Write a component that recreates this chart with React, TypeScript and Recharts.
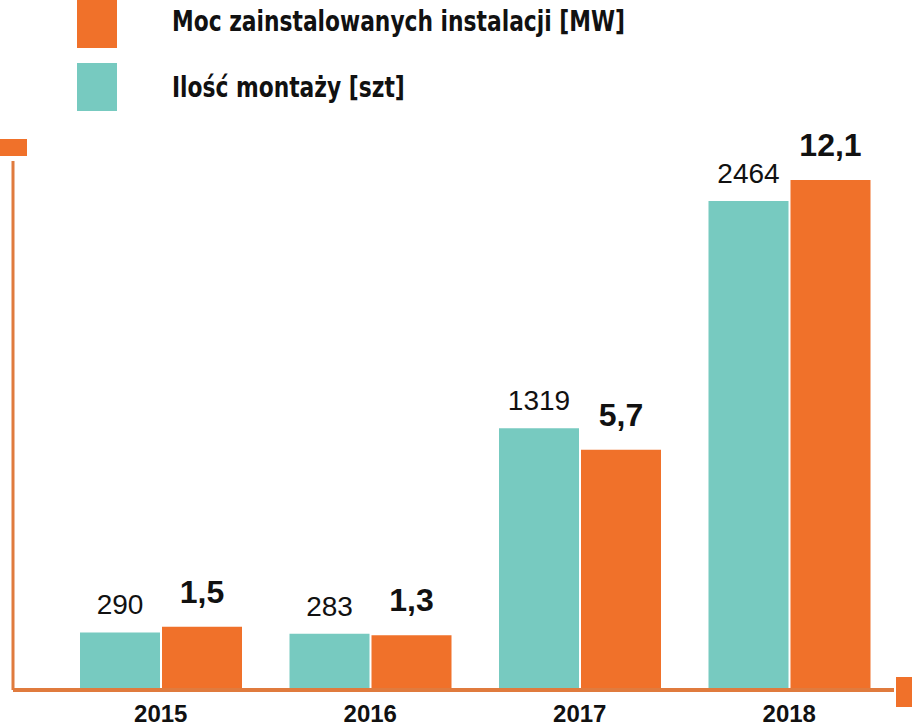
import { BarChart, Bar, XAxis, YAxis, LabelList } from "recharts";

const years = ["2015", "2016", "2017", "2018"];
const montaze = [290, 283, 1319, 2464]; // ilość montaży [szt]
const moc = [1.5, 1.3, 5.7, 12.1]; // moc [MW]

const data = years.map((y, i) => ({ year: y, montaze: montaze[i], moc: moc[i] }));

const ORANGE = "#F0712A";
const TEAL = "#77CAC0";
const AXIS = "#E07B3E";
const SANS = "'Liberation Sans', Arial, sans-serif";
const CONDENSED = "'DejaVu Sans Condensed', 'Liberation Sans', sans-serif";

const legendText: React.CSSProperties = {
    position: "absolute",
    left: 172,
    fontFamily: CONDENSED,
    fontWeight: 700,
    fontSize: 28,
    lineHeight: "32px",
    color: "#111",
    whiteSpace: "nowrap",
    transform: "scaleX(0.865)",
    transformOrigin: "left center",
};

export default function App() {
    return (
        <div style={{ position: "absolute", left: 0, top: 0, width: 912, height: 727, background: "#fff" }}>
            {/* legenda */}
            <div style={{ position: "absolute", left: 77, top: 0, width: 40, height: 48, background: ORANGE }} />
            <div style={{ position: "absolute", left: 77, top: 63, width: 40, height: 48, background: TEAL }} />
            <div style={{ ...legendText, top: 6 }}>Moc zainstalowanych instalacji [MW]</div>
            <div style={{ ...legendText, top: 72 }}>Ilość montaży [szt]</div>

            {/* znaczniki osi */}
            <div style={{ position: "absolute", left: 0, top: 139, width: 27, height: 17, background: ORANGE }} />
            <div style={{ position: "absolute", left: 896, top: 677, width: 16, height: 30, background: ORANGE }} />

            <div style={{ position: "absolute", left: 0, top: 0 }}>
                <BarChart
                    width={912}
                    height={727}
                    data={data}
                    margin={{ top: 161, right: 18, left: 0, bottom: 0 }}
                    barCategoryGap={24}
                    barGap={2}
                >
                    <XAxis
                        dataKey="year"
                        height={37}
                        padding={{ left: 43, right: 0 }}
                        axisLine={{ stroke: AXIS, strokeWidth: 4 }}
                        tickLine={false}
                        tickMargin={9}
                        tick={{ fill: "#111", fontSize: 24, fontWeight: 700, fontFamily: SANS }}
                    />
                    <YAxis
                        yAxisId="szt"
                        width={13}
                        domain={[0, 2665]}
                        tick={false}
                        tickLine={false}
                        axisLine={{ stroke: AXIS, strokeWidth: 3 }}
                    />
                    <YAxis yAxisId="mw" orientation="right" domain={[0, 12.55]} hide />
                    <Bar yAxisId="szt" dataKey="montaze" fill={TEAL} barSize={80} isAnimationActive={false}>
                        <LabelList
                            dataKey="montaze"
                            position="top"
                            offset={18}
                            fill="#111"
                            fontSize={28}
                            fontFamily={SANS}
                        />
                    </Bar>
                    <Bar yAxisId="mw" dataKey="moc" fill={ORANGE} barSize={80} isAnimationActive={false}>
                        <LabelList
                            dataKey="moc"
                            position="top"
                            offset={24}
                            fill="#111"
                            fontSize={32}
                            fontWeight={700}
                            fontFamily={SANS}
                            formatter={(v: number) => String(v).replace(".", ",")}
                        />
                    </Bar>
                </BarChart>
            </div>
        </div>
    );
}
